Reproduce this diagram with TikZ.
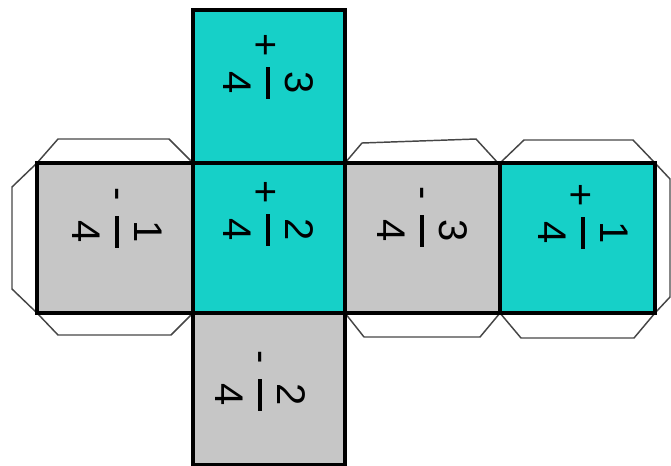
\documentclass[tikz,border=0pt]{standalone}
\usepackage{fontspec}
\setmainfont{Liberation Sans}
\definecolor{FaceTeal}{RGB}{22,208,200}
\definecolor{FaceGray}{RGB}{198,198,198}
\definecolor{FlapLine}{RGB}{70,70,70}

\begin{document}
\begin{tikzpicture}[x=0.75pt,y=-0.75pt,
    flap/.style={draw=FlapLine,line width=1.1pt,line join=round},
    face/.style={draw=black,line width=3pt},
    digit/.style={font=\fontsize{30}{30}\selectfont,rotate=-90,inner sep=0pt},
    fracbar/.style={line width=2.6pt}]
  \useasboundingbox (0,0) rectangle (671,465);
  % glue flaps
  \draw[flap] (37,163) -- (58,139) -- (169,139) -- (193,163);
  \draw[flap] (37,163) -- (12,187) -- (12,289) -- (37,313);
  \draw[flap] (37,313) -- (58,335) -- (171,335) -- (193,313);
  \draw[flap] (345,163) -- (362,143) -- (476,139) -- (498,163);
  \draw[flap] (345,313) -- (364,337) -- (480,337) -- (500,313);
  \draw[flap] (500,163) -- (524,140) -- (633,140) -- (655,163);
  \draw[flap] (500,313) -- (521,338) -- (634,338) -- (655,313);
  \draw[flap] (655,163) -- (670,179) -- (670,297) -- (655,313);
  % faces of the cube
  \foreach \xa/\ya/\xb/\yb/\c in {193/10/345/163/FaceTeal,
      37/163/193/313/FaceGray, 193/163/345/313/FaceTeal,
      345/163/500/313/FaceGray, 500/163/655/313/FaceTeal,
      193/313/345/465/FaceGray}
    \fill[\c] (\xa,\ya) rectangle (\xb,\yb);
  \foreach \xa/\ya/\xb/\yb in {193/10/345/163, 37/163/193/313,
      193/163/345/313, 345/163/500/313, 500/163/655/313, 193/313/345/465}
    \draw[face] (\xa,\ya) rectangle (\xb,\yb);
  % fractions, turned a quarter
  \foreach \n/\bx/\by/\s/\a/\b in {top/268/83/+/3/4, left/117/232/-/1/4,
      mid/268/230/+/2/4, grayr/422/231/-/3/4, tealr/583/233/+/1/4,
      bottom/260/395/-/2/4} {
    \draw[fracbar] (\bx,\by-16) -- (\bx,\by+16);
    \node[digit] (\n-num) at (\bx+31,\by) {\a};
    \node[digit] (\n-den) at (\bx-31,\by) {\b};
    \node[digit] (\n-sign) at (\bx-4,\by-38) {\s};
  }
\end{tikzpicture}
\end{document}
